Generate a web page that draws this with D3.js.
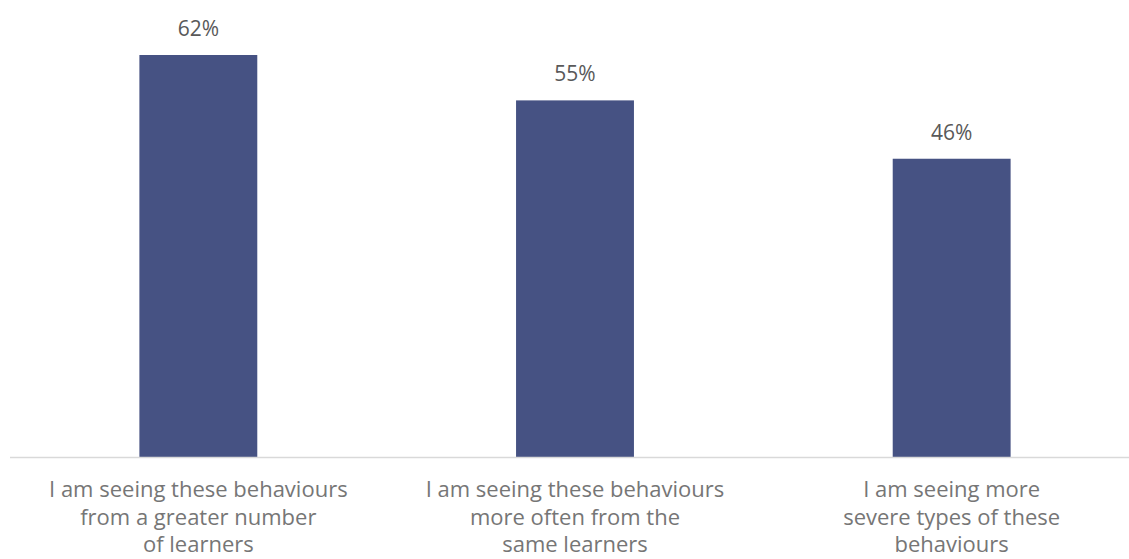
<!DOCTYPE html>
<html>
<head>
<meta charset="utf-8">
<script src="https://cdn.jsdelivr.net/npm/d3@7"></script>
<style>
  html, body { margin: 0; padding: 0; background: #ffffff; }
  svg { display: block; }
</style>
</head>
<body>
<svg id="chart" width="1129" height="559"></svg>
<script>
// Share of respondents agreeing with each statement (%)
const categories = [
  ["I am seeing these behaviours", "from a greater number", "of learners"],
  ["I am seeing these behaviours", "more often from the", "same learners"],
  ["I am seeing more", "severe types of these", "behaviours"]
];
const values = [62, 55, 46];
const valueLabels = ["62%", "55%", "46%"];

const width = 1129, height = 559;
const baseline = 457;
const font = "'Open Sans', Lato, sans-serif";

const svg = d3.select("#chart");

const x = d3.scaleBand()
  .domain(d3.range(values.length))
  .range([10, 1140])
  .paddingInner(0.687)
  .paddingOuter(0.3435);

const y = d3.scaleLinear()
  .domain([0, 62])
  .range([baseline, 55]);

// bars
svg.append("g")
  .selectAll("rect")
  .data(values)
  .join("rect")
  .attr("x", (d, i) => x(i))
  .attr("y", d => y(d))
  .attr("width", x.bandwidth())
  .attr("height", d => baseline - y(d))
  .attr("fill", "#465283");

// category axis line
svg.append("line")
  .attr("x1", 10).attr("x2", width)
  .attr("y1", baseline + 0.5).attr("y2", baseline + 0.5)
  .attr("stroke", "#d9d9d9")
  .attr("stroke-width", 1.5);

// value labels above bars
svg.append("g")
  .selectAll("text")
  .data(values)
  .join("text")
  .attr("x", (d, i) => x(i) + x.bandwidth() / 2)
  .attr("y", d => y(d) - 19)
  .attr("text-anchor", "middle")
  .attr("font-family", font)
  .attr("font-size", 21)
  .attr("fill", "#595959")
  .text((d, i) => valueLabels[i]);

// wrapped category labels
const cat = svg.append("g")
  .selectAll("text")
  .data(categories)
  .join("text")
  .attr("text-anchor", "middle")
  .attr("font-family", font)
  .attr("font-size", 22)
  .attr("fill", "#767676");

cat.selectAll("tspan")
  .data((d, i) => d.map(line => ({ line, i })))
  .join("tspan")
  .attr("x", d => x(d.i) + x.bandwidth() / 2)
  .attr("y", (d, j) => 497 + j * 27.5)
  .text(d => d.line);
</script>
</body>
</html>
